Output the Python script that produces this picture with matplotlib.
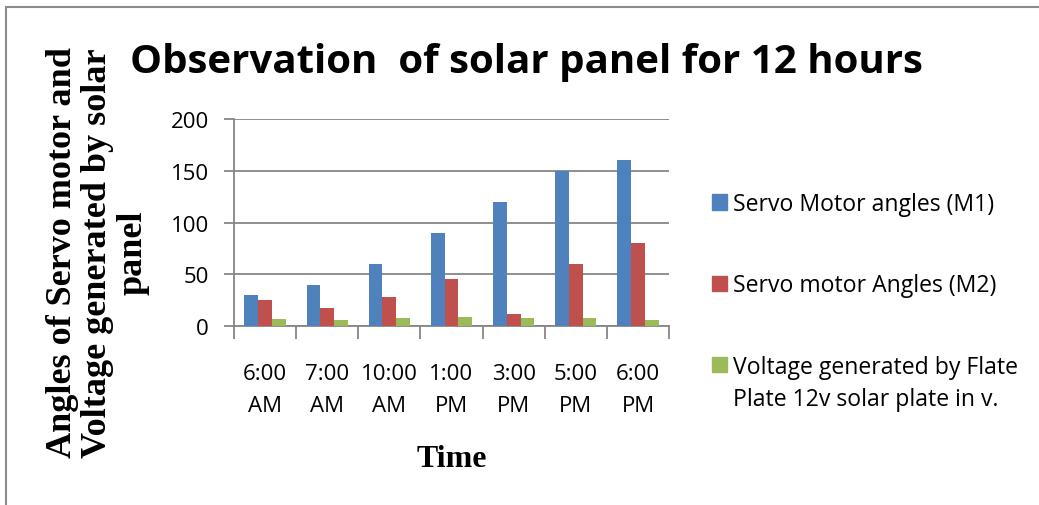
import numpy as np
import matplotlib
matplotlib.use("Agg")
import matplotlib.pyplot as plt
from matplotlib.patches import Rectangle

times = ["6:00\nAM", "7:00\nAM", "10:00\nAM", "1:00\nPM", "3:00\nPM", "5:00\nPM", "6:00\nPM"]
servo_m1 = [30, 40, 60, 90, 120, 150, 160]
servo_m2 = [25, 17, 28, 45, 12, 60, 80]
voltage = [7, 6, 8, 9, 8, 8, 6]

labels = ["Servo Motor angles (M1)", "Servo motor Angles (M2)",
          "Voltage generated by Flate\nPlate 12v solar plate in v."]
colors = ["#4F81BD", "#C0504D", "#9BBB59"]

sans = "Open Sans"
serif = "Liberation Serif"
W, H = 1039, 506

fig = plt.figure(figsize=(W / 100, H / 100), dpi=100)
ax = fig.add_axes([0.2252, 0.3538, 0.4187, 0.409])

x = np.arange(len(times))
w = 0.222
for i, (vals, c) in enumerate(zip([servo_m1, servo_m2, voltage], colors)):
    ax.bar(x + (i - 1) * w, vals, width=w, color=c, zorder=3)

ax.set_xlim(-0.5, len(times) - 0.5)
ax.set_ylim(0, 200)
ax.set_yticks([0, 50, 100, 150, 200])
ax.yaxis.grid(True, color="#868686", linewidth=1.3, zorder=0)
ax.set_xticks(x)
ax.set_xticklabels(times, fontfamily=sans, fontsize=16, linespacing=1.65)
ax.set_xticks(np.arange(len(times) + 1) - 0.5, minor=True)
ax.tick_params(axis="x", which="major", length=0, pad=27)
ax.tick_params(axis="x", which="minor", length=9, color="#868686", width=1.3)
ax.tick_params(axis="y", length=7, color="#868686", width=1.3, pad=11)
for t in ax.get_yticklabels():
    t.set_fontfamily(sans)
    t.set_fontsize(16)

for s in ["top", "right"]:
    ax.spines[s].set_visible(False)
for s in ["left", "bottom"]:
    ax.spines[s].set_color("#868686")
    ax.spines[s].set_linewidth(1.3)

fig.text(0.507, 1 - 73 / H, "Observation  of solar panel for 12 hours", ha="center", va="baseline",
         fontfamily=sans, fontweight="bold", fontsize=29)
fig.text(0.0943, 0.5, "Angles of Servo motor and\nVoltage generated by solar\npanel",
         rotation=90, ha="center", va="center", multialignment="center",
         fontfamily=serif, fontweight="bold", fontsize=26, linespacing=1.1)
fig.text(0.435, 1 - 460 / H, "Time", ha="center", va="center",
         fontfamily=serif, fontweight="bold", fontsize=23)

# legend drawn by hand: Excel puts the swatch on the first line of a wrapped label
leg_rows = [203, 284, 365]
line_h = 33
for lab, c, yc in zip(labels, colors, leg_rows):
    fig.add_artist(Rectangle((712 / W, 1 - (yc + 7.5) / H), 15 / W, 15 / H,
                             transform=fig.transFigure, color=c))
    # multi-line text aligns on the baseline of its last line
    base = yc + 8 + (lab.count("\n")) * line_h
    fig.text(733 / W, 1 - base / H, lab, ha="left", va="baseline",
             fontfamily=sans, fontsize=16.6, linespacing=1.45)

fig.add_artist(Rectangle((6 / W, -0.2), 2.0, 1.2 - 8 / H, transform=fig.transFigure,
                         fill=False, edgecolor="#8c8c8c", linewidth=1.5))

fig.savefig("out.png", dpi=100)
